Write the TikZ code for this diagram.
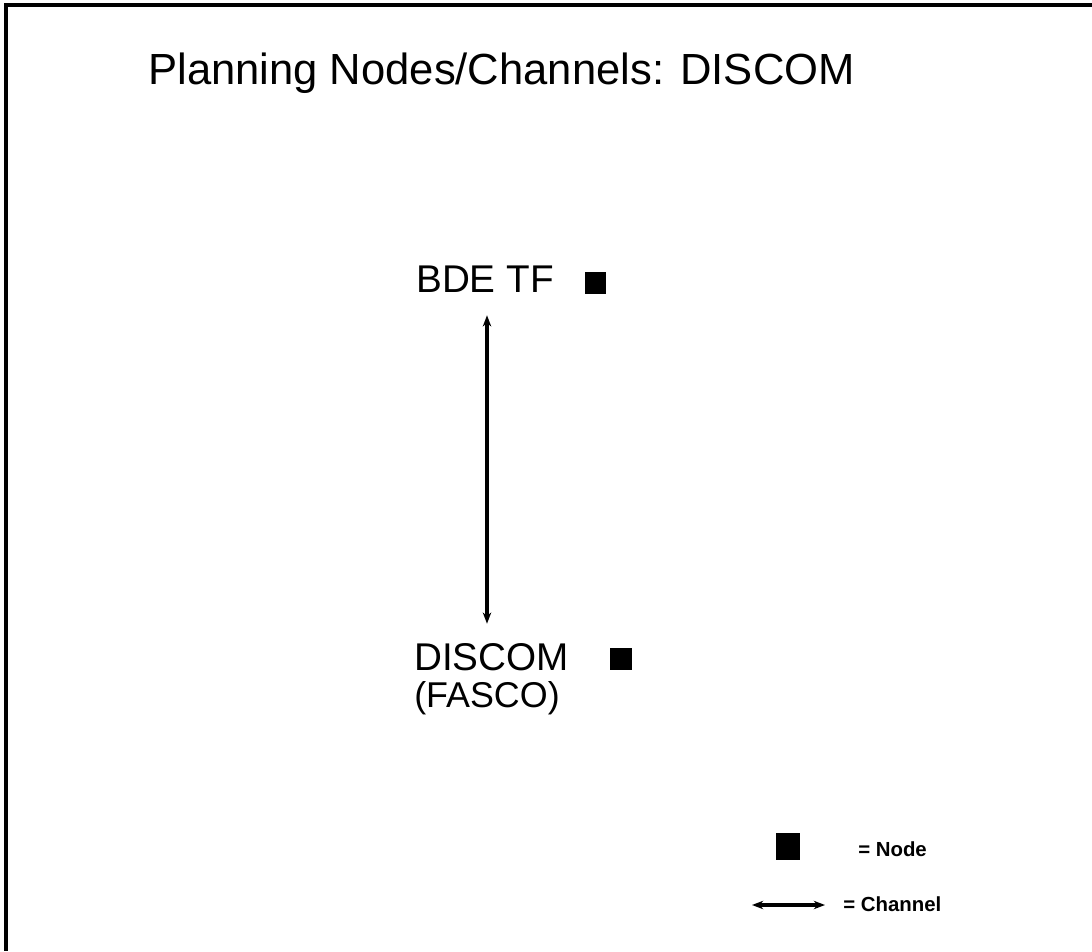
\documentclass[tikz,border=0pt]{standalone}
\usepackage{fontspec}
\setmainfont{Liberation Sans}
\usetikzlibrary{arrows.meta, calc, positioning}

\begin{document}
\begin{tikzpicture}[
  nodebox/.style={fill=black, inner sep=0pt, minimum size=0.54cm},
  place/.style={font=\fontsize{27.5}{30}\selectfont, inner sep=0pt, anchor=base west},
  channel/.style={line width=2.4pt, {Stealth[length=8pt,width=6pt]}-{Stealth[length=8pt,width=6pt]}},
  keytext/.style={font=\fontsize{14.5}{16}\selectfont\bfseries, inner sep=0pt, anchor=base west}
]
% Page size
\useasboundingbox (0,0) rectangle (27.3,23.775);

% Frame (top and left only)
\draw[line width=2.6pt] (27.3,23.65) -- (0.15,23.65) -- (0.15,0);

% Title
\node[font=\fontsize{31}{33}\selectfont, inner sep=0pt, anchor=base west] (title) at (3.7,21.65) {Planning Nodes/Channels: DISCOM};

% Planning nodes
\node[place] (bde) at (10.4,16.45) {BDE TF};
\node[nodebox] (bdesq) at (14.89,16.7) {};

\node[place] (discom) at (10.35,7.0) {DISCOM};
\node[place, font=\fontsize{25.5}{28}\selectfont] (fasco) at (10.35,6.08) {(FASCO)};
\node[nodebox] (discomsq) at (15.525,7.3) {};

% Channel between them
\draw[channel, shorten <=0.55cm, shorten >=0.5cm] (bde.south -| 12.175,0) -- (discom.north -| 12.175,0);

% Key
\node[nodebox, minimum width=0.6cm, minimum height=0.67cm] (keysq) at (19.7,2.61) {};
\node[keytext] (keynode) at (21.45,2.375) {= Node};

\coordinate (keyL) at (18.8,1.15);
\coordinate (keyR) at (20.625,1.15);
\draw[channel] (keyL) -- (keyR);
\node[keytext] (keychan) at (21.075,1.0) {= Channel};
\end{tikzpicture}
\end{document}
